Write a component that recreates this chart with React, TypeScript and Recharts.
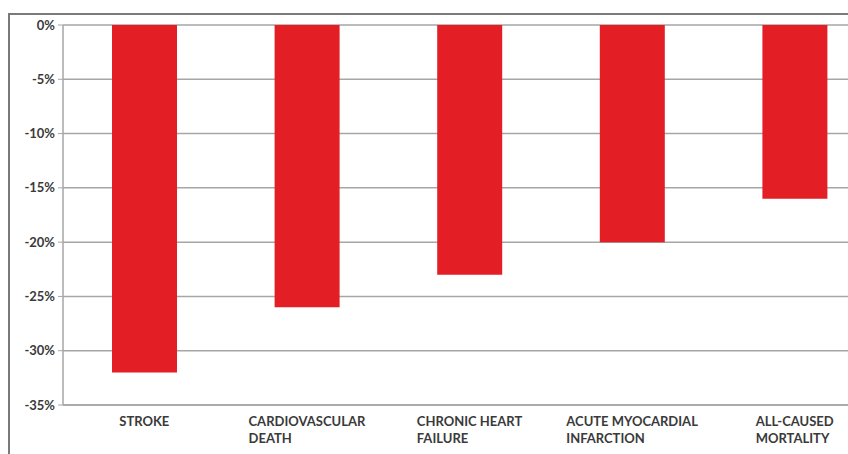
import { BarChart, Bar, XAxis, YAxis, CartesianGrid } from "recharts"

const categorias = [
  ["STROKE"],
  ["CARDIOVASCULAR", "DEATH"],
  ["CHRONIC HEART", "FAILURE"],
  ["ACUTE MYOCARDIAL", "INFARCTION"],
  ["ALL-CAUSED", "MORTALITY"],
]
const reduccion = [-32, -26, -23, -20, -16]
const ticksY = [0, -5, -10, -15, -20, -25, -30, -35]

const FUENTE = "Lato, 'Open Sans', sans-serif"
const GRIS = "#a6a6a6"
const TEXTO = "#3a3a3a"

const datos = categorias.map((lineas, i) => ({
  nombre: lineas.join(" "),
  lineas,
  valor: reduccion[i],
}))

let ctx: CanvasRenderingContext2D | null = null
function anchoTexto(t: string) {
  if (!ctx) ctx = document.createElement("canvas").getContext("2d")
  if (!ctx) return t.length * 7.5
  ctx.font = `bold 13px ${FUENTE}`
  return ctx.measureText(t).width
}

function TickCategoria({ x, y, payload, index }: any) {
  const lineas = datos[index]?.lineas ?? [payload.value]
  const ancho = Math.max(...lineas.map(anchoTexto))
  const x0 = x - ancho / 2
  return (
    <g>
      {lineas.map((l: string, i: number) => (
        <text
          key={i}
          x={x0}
          y={y + 21 + i * 17}
          textAnchor="start"
          fontSize={13}
          fontWeight="bold"
          fontFamily={FUENTE}
          fill={TEXTO}
        >
          {l}
        </text>
      ))}
    </g>
  )
}

export default function App() {
  return (
    <div style={{ position: "absolute", left: 0, top: 0, width: 900, height: 470, background: "#fff" }}>
      <div
        style={{
          position: "absolute",
          left: 8,
          top: 13,
          width: 900,
          height: 500,
          borderLeft: "2px solid #7a7a7a",
          borderTop: "2px solid #7a7a7a",
        }}
      />
      <div style={{ position: "absolute", left: 0, top: 0 }}>
        <BarChart
          width={900}
          height={470}
          data={datos}
          margin={{ top: 25, right: 24, left: 0, bottom: 25 }}
        >
          <CartesianGrid vertical={false} stroke={GRIS} strokeWidth={1.5} />
          <XAxis
            dataKey="nombre"
            interval={0}
            height={40}
            tickLine={false}
            tickSize={0}
            tickMargin={0}
            axisLine={{ stroke: GRIS, strokeWidth: 1.5 }}
            tick={<TickCategoria />}
          />
          <YAxis
            domain={[-35, 0]}
            ticks={ticksY}
            width={63}
            tickFormatter={(v: number) => `${v}%`}
            tick={{ fontSize: 13, fontWeight: "bold", fontFamily: FUENTE, fill: TEXTO }}
            tickSize={5}
            tickMargin={3}
            tickLine={{ stroke: GRIS }}
            axisLine={{ stroke: GRIS, strokeWidth: 1.5 }}
          />
          <Bar dataKey="valor" fill="#e31e25" barSize={65} isAnimationActive={false} />
        </BarChart>
      </div>
    </div>
  )
}
